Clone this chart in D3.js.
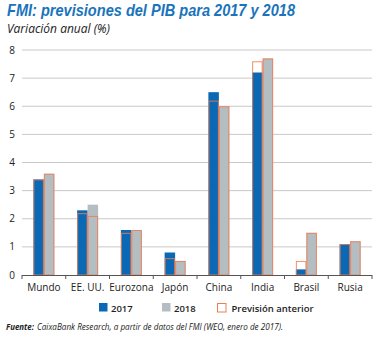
<!DOCTYPE html>
<html>
<head>
<meta charset="utf-8">
<script src="https://cdn.jsdelivr.net/npm/d3@7"></script>
<style>
  html, body { margin: 0; padding: 0; background: #fff; }
  svg { display: block; }
</style>
</head>
<body>
<svg id="chart" width="381" height="338"></svg>
<script>
// GDP growth forecasts (%), IMF WEO January 2017
const categories = ["Mundo", "EE. UU.", "Eurozona", "Japón", "China", "India", "Brasil", "Rusia"];
const values2017 = [3.4, 2.3, 1.6, 0.8, 6.5, 7.2, 0.2, 1.1];
const values2018 = [3.6, 2.5, 1.6, 0.5, 6.0, 7.7, 1.5, 1.2];
const previous2017 = [3.4, 2.2, 1.5, 0.6, 6.2, 7.6, 0.5, 1.1];
const previous2018 = [3.6, 2.1, 1.6, 0.5, 6.0, 7.7, 1.5, 1.2];
const yTicks = [0, 1, 2, 3, 4, 5, 6, 7, 8];
const legendLabels = ["2017", "2018", "Previsión anterior"];

const BLUE = "#0a68b4", GRAY = "#b4bdc2", ORANGE = "#ee7c50";
const FONT = "'Open Sans', 'Noto Sans', sans-serif";
const TITLE_FONT = "'Liberation Sans', Arial, sans-serif";

const svg = d3.select("#chart");

const plot = { left: 22, right: 372, top: 50, bottom: 275 };

const x = d3.scaleBand().domain(categories).range([plot.left, plot.right]).paddingInner(0).paddingOuter(0);
const y = d3.scaleLinear().domain([0, 8]).range([plot.bottom, plot.top]);
const barW = 10.5;

// Title & subtitle
svg.append("text").attr("x", 7).attr("y", 15.5)
  .attr("font-family", TITLE_FONT).attr("font-weight", 700).attr("font-style", "italic")
  .attr("font-size", 16.5).attr("fill", "#1a74bb")
  .attr("textLength", 288).attr("lengthAdjust", "spacingAndGlyphs")
  .text("FMI: previsiones del PIB para 2017 y 2018");
svg.append("text").attr("x", 7).attr("y", 33)
  .attr("font-family", FONT).attr("font-style", "italic")
  .attr("font-size", 13).attr("fill", "#222")
  .attr("textLength", 103).attr("lengthAdjust", "spacingAndGlyphs")
  .text("Variación anual (%)");

// Gridlines
svg.append("g").selectAll("line").data(yTicks.filter(d => d > 0)).join("line")
  .attr("x1", plot.left).attr("x2", plot.right)
  .attr("y1", d => y(d)).attr("y2", d => y(d))
  .attr("stroke", "#c9c9c9").attr("stroke-width", 1);

// Y axis labels
svg.append("g").selectAll("text").data(yTicks).join("text")
  .attr("x", 15).attr("y", d => y(d) + 3.5)
  .attr("text-anchor", "end")
  .attr("font-family", FONT).attr("font-size", 10).attr("fill", "#222")
  .text(d => d);

// Bars with previous-forecast outlines
const bars = svg.append("g");
categories.forEach((c, i) => {
  const cx = x(c) + x.bandwidth() / 2;
  bars.append("rect").attr("x", cx - barW).attr("width", barW)
    .attr("y", y(values2017[i])).attr("height", y(0) - y(values2017[i])).attr("fill", BLUE);
  bars.append("rect").attr("x", cx).attr("width", barW)
    .attr("y", y(values2018[i])).attr("height", y(0) - y(values2018[i])).attr("fill", GRAY);
  bars.append("rect").attr("x", cx - barW + 0.5).attr("width", barW - 1)
    .attr("y", y(previous2017[i]) + 0.5).attr("height", y(0) - y(previous2017[i]) - 0.5)
    .attr("fill", "none").attr("stroke", ORANGE).attr("stroke-width", 1).attr("stroke-opacity", 0.85);
  bars.append("rect").attr("x", cx + 0.5).attr("width", barW - 1)
    .attr("y", y(previous2018[i]) + 0.5).attr("height", y(0) - y(previous2018[i]) - 0.5)
    .attr("fill", "none").attr("stroke", ORANGE).attr("stroke-width", 1).attr("stroke-opacity", 0.85);
});

// X axis
const xAxis = svg.append("g");
xAxis.append("line").attr("x1", plot.left).attr("x2", plot.right)
  .attr("y1", y(0) + 0.5).attr("y2", y(0) + 0.5).attr("stroke", "#555").attr("stroke-width", 1);
const boundaries = categories.map(c => x(c)).concat([plot.right]);
xAxis.selectAll("line.tick").data(boundaries).join("line").attr("class", "tick")
  .attr("x1", d => d).attr("x2", d => d)
  .attr("y1", y(0)).attr("y2", y(0) + 4).attr("stroke", "#555");
xAxis.selectAll("text").data(categories).join("text")
  .attr("x", d => x(d) + x.bandwidth() / 2).attr("y", 291)
  .attr("text-anchor", "middle")
  .attr("font-family", FONT).attr("font-size", 10).attr("fill", "#222")
  .text(d => d);

// Legend
const legend = svg.append("g");
const legendX = [99, 162, 217];
legendLabels.forEach((l, i) => {
  const g = legend.append("g").attr("transform", `translate(${legendX[i]},303)`);
  if (i < 2) {
    g.append("rect").attr("width", 8.5).attr("height", 8.5).attr("fill", i === 0 ? BLUE : GRAY);
  } else {
    g.append("rect").attr("x", 0.5).attr("y", 0.5).attr("width", 8.5).attr("height", 8.5)
      .attr("fill", "none").attr("stroke", ORANGE);
  }
  g.append("text").attr("x", i === 2 ? 14.5 : 12).attr("y", 8.5)
    .attr("font-family", FONT).attr("font-weight", 600).attr("font-size", 9.5).attr("fill", "#222")
    .text(l);
});

// Source note
svg.append("text").attr("x", 6).attr("y", 330)
  .attr("font-family", FONT).attr("font-style", "italic").attr("font-weight", 700)
  .attr("font-size", 9).attr("fill", "#222")
  .attr("textLength", 28).attr("lengthAdjust", "spacingAndGlyphs")
  .text("Fuente:");
svg.append("text").attr("x", 37).attr("y", 330)
  .attr("font-family", FONT).attr("font-style", "italic")
  .attr("font-size", 9).attr("fill", "#222")
  .attr("textLength", 246).attr("lengthAdjust", "spacingAndGlyphs")
  .text("CaixaBank Research, a partir de datos del FMI (WEO, enero de 2017).");
</script>
</body>
</html>
